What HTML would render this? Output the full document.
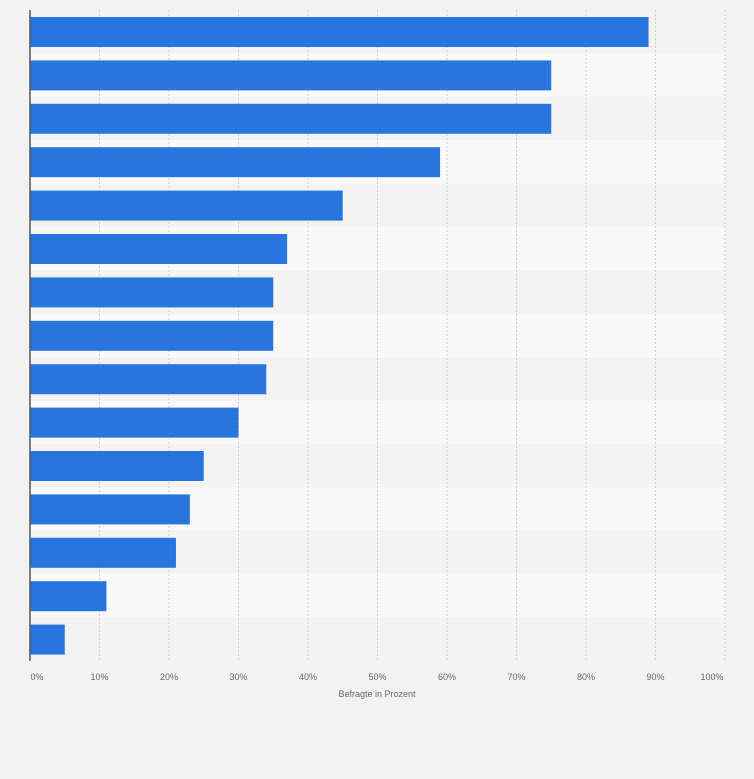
<!DOCTYPE html>
<html><head><meta charset="utf-8"><style>
html,body{margin:0;padding:0;background:#f2f2f2;}
svg{display:block;font-family:"Liberation Sans",sans-serif;}
</style></head><body>
<svg id="chart" width="754" height="779" viewBox="0 0 754 779" xmlns="http://www.w3.org/2000/svg">
<rect width="754" height="779" fill="#f2f2f2"/>
<g id="bands"></g><g id="grid"></g><g id="bars"></g><g id="ticks"></g>
<line x1="30" y1="10" x2="30" y2="661" stroke="#555" stroke-width="1.5"/>
<text x="377" y="697" font-size="9" fill="#666" text-anchor="middle">Befragte in Prozent</text>
</svg>
<script>
const values = [89,75,75,59,45,37,35,35,34,30,25,23,21,11,5];
const tickValues = [0,10,20,30,40,50,60,70,80,90,100];
const tickLabels = ["0%","10%","20%","30%","40%","50%","60%","70%","80%","90%","100%"];
const NS="http://www.w3.org/2000/svg";
const x0=30,x1=725,yTop=10,yBot=661;
const xs=v=>x0+(v/100)*(x1-x0);
const rowH=(yBot-yTop)/values.length;
const bands=document.getElementById('bands'),grid=document.getElementById('grid'),bars=document.getElementById('bars'),ticks=document.getElementById('ticks');
values.forEach((v,i)=>{
  const b=document.createElementNS(NS,'rect');
  b.setAttribute('x',x0);b.setAttribute('y',yTop+i*rowH);b.setAttribute('width',x1-x0);b.setAttribute('height',rowH);
  b.setAttribute('fill',i%2?'#f9f9f9':'#f3f3f3');
  
  
  bands.appendChild(b);
  const r=document.createElementNS(NS,'rect');
  r.setAttribute('x',x0);r.setAttribute('y',yTop+i*rowH+7);r.setAttribute('width',xs(v)-x0);r.setAttribute('height',30);
  r.setAttribute('fill','#2876dd');
  
  
  bars.appendChild(r);
});
tickValues.forEach((t,i)=>{
  const x=xs(t);
  if(t>0){
    const l=document.createElementNS(NS,'line');
    l.setAttribute('x1',x);l.setAttribute('x2',x);l.setAttribute('y1',yTop);l.setAttribute('y2',yBot);
    l.setAttribute('stroke','#cfcfcf');l.setAttribute('stroke-dasharray','2,2');l.setAttribute('stroke-width','1');
    
    
    grid.appendChild(l);
  }
  const tx=document.createElementNS(NS,'text');
  tx.setAttribute('x',t===0?x+7:(t===100?x-13:x));tx.setAttribute('y',680);
  tx.setAttribute('font-size','9');tx.setAttribute('fill','#666');tx.setAttribute('text-anchor','middle');
  tx.textContent=tickLabels[i];
  
  
  ticks.appendChild(tx);
});
</script>
</body></html>
